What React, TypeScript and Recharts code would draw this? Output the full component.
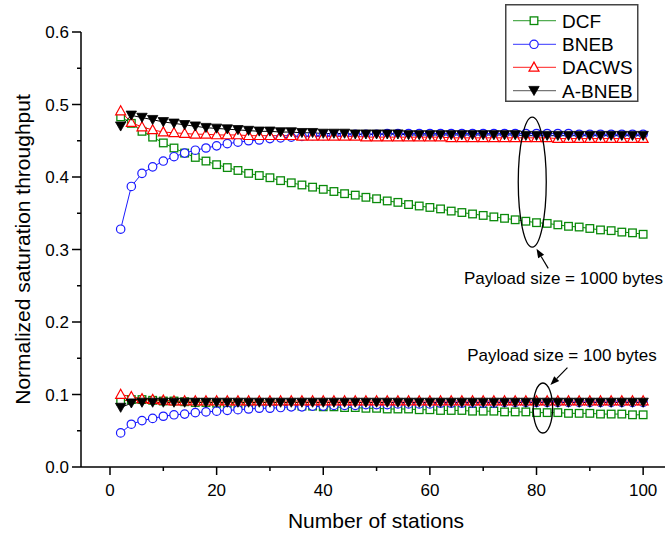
import React from 'react';
import { LineChart, Line, XAxis, YAxis, ReferenceDot, ReferenceLine, Label } from 'recharts';

const stations = [2, 4, 6, 8, 10, 12, 14, 16, 18, 20, 22, 24, 26, 28, 30, 32, 34, 36, 38, 40, 42, 44, 46, 48, 50, 52, 54, 56, 58, 60, 62, 64, 66, 68, 70, 72, 74, 76, 78, 80, 82, 84, 86, 88, 90, 92, 94, 96, 98, 100];

const dcf1000 = [0.483, 0.474, 0.463, 0.455, 0.447, 0.440, 0.433, 0.427, 0.422, 0.417, 0.413, 0.409, 0.405, 0.402, 0.399, 0.395, 0.392, 0.389, 0.386, 0.383, 0.380, 0.377, 0.375, 0.372, 0.370, 0.367, 0.365, 0.362, 0.360, 0.358, 0.356, 0.353, 0.351, 0.349, 0.347, 0.345, 0.343, 0.341, 0.339, 0.337, 0.336, 0.334, 0.332, 0.331, 0.329, 0.327, 0.326, 0.324, 0.323, 0.321];
const bneb1000 = [0.328, 0.387, 0.405, 0.414, 0.422, 0.428, 0.433, 0.437, 0.440, 0.443, 0.446, 0.448, 0.450, 0.451, 0.453, 0.454, 0.455, 0.456, 0.457, 0.457, 0.458, 0.458, 0.459, 0.459, 0.459, 0.460, 0.460, 0.460, 0.460, 0.460, 0.460, 0.460, 0.460, 0.460, 0.460, 0.460, 0.460, 0.460, 0.460, 0.460, 0.460, 0.460, 0.460, 0.459, 0.459, 0.459, 0.459, 0.459, 0.459, 0.459];
const dacws1000 = [0.491, 0.475, 0.469, 0.465, 0.462, 0.461, 0.460, 0.459, 0.459, 0.458, 0.458, 0.458, 0.457, 0.457, 0.457, 0.457, 0.457, 0.456, 0.456, 0.456, 0.456, 0.456, 0.456, 0.455, 0.455, 0.455, 0.455, 0.455, 0.455, 0.455, 0.455, 0.454, 0.454, 0.454, 0.454, 0.454, 0.454, 0.454, 0.454, 0.454, 0.454, 0.453, 0.453, 0.453, 0.453, 0.453, 0.453, 0.453, 0.453, 0.453];
const abneb1000 = [0.470, 0.485, 0.482, 0.479, 0.476, 0.474, 0.472, 0.470, 0.468, 0.467, 0.466, 0.465, 0.464, 0.463, 0.463, 0.462, 0.462, 0.461, 0.461, 0.460, 0.460, 0.460, 0.459, 0.459, 0.459, 0.459, 0.459, 0.458, 0.458, 0.458, 0.458, 0.458, 0.458, 0.458, 0.458, 0.458, 0.458, 0.458, 0.457, 0.457, 0.457, 0.457, 0.457, 0.457, 0.457, 0.457, 0.457, 0.457, 0.457, 0.457];

const dcf100 = [0.091, 0.093, 0.093, 0.092, 0.091, 0.091, 0.090, 0.089, 0.089, 0.088, 0.088, 0.087, 0.087, 0.086, 0.086, 0.085, 0.085, 0.084, 0.084, 0.083, 0.083, 0.082, 0.082, 0.081, 0.081, 0.080, 0.080, 0.080, 0.079, 0.079, 0.078, 0.078, 0.078, 0.077, 0.077, 0.077, 0.076, 0.076, 0.076, 0.075, 0.075, 0.075, 0.074, 0.074, 0.074, 0.073, 0.073, 0.073, 0.072, 0.072];
const bneb100 = [0.047, 0.059, 0.064, 0.067, 0.070, 0.072, 0.073, 0.075, 0.076, 0.077, 0.078, 0.079, 0.080, 0.081, 0.081, 0.082, 0.083, 0.083, 0.084, 0.084, 0.085, 0.085, 0.085, 0.086, 0.086, 0.086, 0.087, 0.087, 0.087, 0.087, 0.088, 0.088, 0.088, 0.088, 0.088, 0.088, 0.089, 0.089, 0.089, 0.089, 0.089, 0.089, 0.089, 0.089, 0.089, 0.089, 0.089, 0.089, 0.089, 0.089];
const dacws100 = [0.100, 0.097, 0.094, 0.093, 0.092, 0.091, 0.091, 0.091, 0.091, 0.091, 0.091, 0.091, 0.091, 0.091, 0.091, 0.091, 0.091, 0.091, 0.091, 0.091, 0.091, 0.091, 0.091, 0.091, 0.091, 0.091, 0.091, 0.091, 0.091, 0.091, 0.091, 0.091, 0.091, 0.091, 0.091, 0.091, 0.091, 0.091, 0.091, 0.091, 0.091, 0.091, 0.091, 0.091, 0.091, 0.091, 0.091, 0.091, 0.091, 0.091];
const abneb100 = [0.082, 0.088, 0.089, 0.089, 0.089, 0.089, 0.089, 0.089, 0.089, 0.089, 0.089, 0.089, 0.089, 0.089, 0.089, 0.089, 0.089, 0.089, 0.089, 0.089, 0.089, 0.089, 0.089, 0.089, 0.089, 0.089, 0.089, 0.089, 0.089, 0.089, 0.089, 0.089, 0.089, 0.089, 0.089, 0.089, 0.089, 0.089, 0.089, 0.089, 0.089, 0.089, 0.089, 0.089, 0.089, 0.089, 0.089, 0.089, 0.089, 0.089];

const xTicks = [0, 10, 20, 30, 40, 50, 60, 70, 80, 90, 100];
const yTicks = [0, 0.05, 0.1, 0.15, 0.2, 0.25, 0.3, 0.35, 0.4, 0.45, 0.5, 0.55, 0.6];
const seriesNames = ['DCF', 'BNEB', 'DACWS', 'A-BNEB'];
const xTitle = 'Number of stations';
const yTitle = 'Normalized saturation throughput';
const note1000 = 'Payload size = 1000 bytes';
const note100 = 'Payload size = 100 bytes';

const rows = stations.map((n, i) => ({
  n,
  dcf1000: dcf1000[i], bneb1000: bneb1000[i], dacws1000: dacws1000[i], abneb1000: abneb1000[i],
  dcf100: dcf100[i], bneb100: bneb100[i], dacws100: dacws100[i], abneb100: abneb100[i],
}));

const FONT = '"Liberation Sans", Arial, Helvetica, sans-serif';
const GREEN = '#0a8a0a';
const BLUE = '#1a1aff';
const RED = '#ff0000';
const BLACK = '#000000';

type Kind = 'square' | 'circle' | 'up' | 'down';

function Marker({ kind, cx, cy, color }: { kind: Kind; cx: number; cy: number; color: string }) {
  if (kind === 'square') {
    return <rect x={cx - 3.8} y={cy - 3.8} width={7.6} height={7.6} fill="#fff" stroke={color} strokeWidth={1.3} />;
  }
  if (kind === 'circle') {
    return <circle cx={cx} cy={cy} r={4.2} fill="#fff" stroke={color} strokeWidth={1.2} />;
  }
  if (kind === 'up') {
    return <path d={`M${cx},${cy - 5.2} L${cx + 5},${cy + 3.8} L${cx - 5},${cy + 3.8} Z`} fill="#fff" stroke={color} strokeWidth={1.2} />;
  }
  return <path d={`M${cx - 5.2},${cy - 4.3} L${cx + 5.2},${cy - 4.3} L${cx},${cy + 4.8} Z`} fill={color} stroke={color} strokeWidth={0.8} />;
}

const dotFn = (kind: Kind, color: string, tag: string) => (p: any) => {
  if (p.cx == null || p.cy == null) return <g key={`${tag}-${p.index}`} />;
  return (
    <g key={`${tag}-${p.index}`}>
      <Marker kind={kind} cx={p.cx} cy={p.cy} color={color} />
    </g>
  );
};

const XTick = (props: any) => {
  const { x, y, payload } = props;
  const v = payload.value;
  const major = v % 20 === 0;
  return (
    <g>
      <line x1={x} y1={y} x2={x} y2={y + (major ? 8 : 4)} stroke="#000" strokeWidth={1.5} />
      {major && (
        <text x={x} y={y + 29} textAnchor="middle" fontSize={17} fontFamily={FONT} fill="#000">
          {v}
        </text>
      )}
    </g>
  );
};

const YTick = (props: any) => {
  const { x, y, payload } = props;
  const v = payload.value;
  const major = Math.abs(v * 10 - Math.round(v * 10)) < 1e-6;
  return (
    <g>
      <line x1={x} y1={y} x2={x - (major ? 9 : 4)} y2={y} stroke="#000" strokeWidth={1.5} />
      {major && (
        <text x={x - 12} y={y + 6} textAnchor="end" fontSize={17} fontFamily={FONT} fill="#000">
          {v.toFixed(1)}
        </text>
      )}
    </g>
  );
};

const Arrow = (p: any) => {
  const { x1, y1, x2, y2 } = p;
  const dx = x2 - x1;
  const dy = y2 - y1;
  const L = Math.hypot(dx, dy) || 1;
  const ux = dx / L;
  const uy = dy / L;
  const hl = 9;
  const hw = 3.5;
  const bx = x2 - ux * hl;
  const by = y2 - uy * hl;
  return (
    <g>
      <line x1={x1} y1={y1} x2={bx} y2={by} stroke="#000" strokeWidth={1.2} />
      <polygon points={`${x2},${y2} ${bx - uy * hw},${by + ux * hw} ${bx + uy * hw},${by - ux * hw}`} fill="#000" />
    </g>
  );
};

const ellipseShape = (rx: number, ry: number) => (p: any) => (
  <ellipse cx={p.cx} cy={p.cy} rx={rx} ry={ry} fill="none" stroke="#000" strokeWidth={1.3} />
);

const textShape = (txt: string) => (p: any) => (
  <text x={p.cx} y={p.cy + 6} fontSize={17} fontFamily={FONT} fill="#000">
    {txt}
  </text>
);

const legendItems: { name: string; kind: Kind; color: string }[] = [
  { name: seriesNames[0], kind: 'square', color: GREEN },
  { name: seriesNames[1], kind: 'circle', color: BLUE },
  { name: seriesNames[2], kind: 'up', color: RED },
  { name: seriesNames[3], kind: 'down', color: BLACK },
];

function LegendBox() {
  const rowY = [16.7, 40.3, 63.3, 86.7];
  return (
    <svg width={135} height={100} style={{ position: 'absolute', left: 504, top: 3 }}>
      <rect x={1.75} y={1.75} width={132} height={96.5} fill="#fff" stroke="#444" strokeWidth={1.5} />
      {legendItems.map((it, i) => (
        <g key={it.name}>
          <line x1={9} y1={rowY[i] + 1} x2={52} y2={rowY[i] + 1} stroke={it.kind === 'down' ? '#777' : it.color} strokeOpacity={it.kind === 'down' ? 1 : 0.7} strokeWidth={1.3} />
          <Marker kind={it.kind} cx={30} cy={rowY[i] + 1} color={it.color} />
          <text x={58} y={rowY[i] + 8} fontSize={19} fontFamily={FONT} fill="#000">
            {it.name}
          </text>
        </g>
      ))}
    </svg>
  );
}

export default function App() {
  const lines: { key: string; kind: Kind; color: string }[] = [
    { key: 'dcf1000', kind: 'square', color: GREEN },
    { key: 'bneb1000', kind: 'circle', color: BLUE },
    { key: 'dacws1000', kind: 'up', color: RED },
    { key: 'abneb1000', kind: 'down', color: BLACK },
    { key: 'dcf100', kind: 'square', color: GREEN },
    { key: 'bneb100', kind: 'circle', color: BLUE },
    { key: 'dacws100', kind: 'up', color: RED },
    { key: 'abneb100', kind: 'down', color: BLACK },
  ];
  return (
    <div style={{ position: 'absolute', left: 0, top: 0, width: 665, height: 535, background: '#fff' }}>
      <LineChart width={665} height={535} data={rows} margin={{ top: 32, right: 0, bottom: 0, left: 0 }}>
        <XAxis
          type="number"
          dataKey="n"
          domain={[-5.44, 104.1]}
          ticks={xTicks}
          interval={0}
          allowDataOverflow
          tick={<XTick />}
          tickSize={0}
          tickMargin={0}
          tickLine={false}
          axisLine={{ stroke: '#000', strokeWidth: 1.5 }}
          height={68}
        >
          <Label
            content={(p: any) => {
              const vb = p.viewBox || {};
              return (
                <text x={vb.x + vb.width / 2 + 3} y={vb.y + 61} textAnchor="middle" fontSize={21} fontFamily={FONT} fill="#000">
                  {xTitle}
                </text>
              );
            }}
          />
        </XAxis>
        <YAxis
          type="number"
          domain={[0, 0.6]}
          ticks={yTicks}
          interval={0}
          tick={<YTick />}
          tickSize={0}
          tickMargin={0}
          tickLine={false}
          axisLine={{ stroke: '#000', strokeWidth: 1.5 }}
          width={81}
        >
          <Label
            content={(p: any) => {
              const vb = p.viewBox || {};
              const cx = 22;
              const cy = vb.y + vb.height / 2;
              return (
                <text x={cx} y={cy} transform={`rotate(-90 ${cx} ${cy})`} textAnchor="middle" dominantBaseline="central" fontSize={21} fontFamily={FONT} fill="#000">
                  {yTitle}
                </text>
              );
            }}
          />
        </YAxis>
        {lines.map((l) => (
          <Line
            key={l.key}
            type="linear"
            dataKey={l.key}
            stroke={l.color}
            strokeWidth={1}
            dot={dotFn(l.kind, l.color, l.key)}
            activeDot={false}
            isAnimationActive={false}
          />
        ))}
        <ReferenceDot x={79.2} y={0.393} r={1} shape={ellipseShape(14, 65)} />
        <ReferenceLine segment={[{ x: 82.2, y: 0.274 }, { x: 80.0, y: 0.301 }]} shape={Arrow} />
        <ReferenceDot x={66.4} y={0.261} r={1} shape={textShape(note1000)} />
        <ReferenceDot x={81.2} y={0.0814} r={1} shape={ellipseShape(9.7, 25)} />
        <ReferenceLine segment={[{ x: 85.8, y: 0.137 }, { x: 82.6, y: 0.113 }]} shape={Arrow} />
        <ReferenceDot x={67.0} y={0.1545} r={1} shape={textShape(note100)} />
      </LineChart>
      <LegendBox />
    </div>
  );
}
